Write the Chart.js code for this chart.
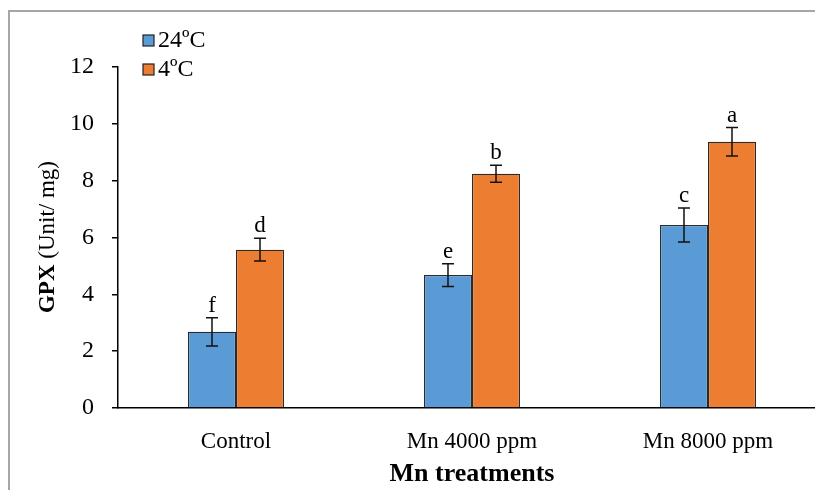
<!DOCTYPE html>
<html>
<head>
<meta charset="utf-8">
<script src="https://cdn.jsdelivr.net/npm/chart.js@4/dist/chart.umd.min.js"></script>
<style>
  html, body { margin: 0; padding: 0; background: #fff; overflow: hidden; width: 815px; height: 490px; }
  canvas { position: absolute; left: 0; top: 0; }
</style>
</head>
<body>
<canvas id="myChart" width="830" height="490"></canvas>
<script>
// dados
const categories = ['Control', 'Mn 4000 ppm', 'Mn 8000 ppm'];
const seriesNames = ['24ºC', '4ºC'];
const warmValues = [2.68, 4.68, 6.44];
const coldValues = [5.57, 8.24, 9.37];
const warmErrors = [0.5, 0.4, 0.6];
const coldErrors = [0.4, 0.3, 0.5];
const warmLetters = ['f', 'e', 'c'];
const coldLetters = ['d', 'b', 'a'];
const yTicks = [0, 2, 4, 6, 8, 10, 12];

const serif = "'Liberation Serif', 'Times New Roman', serif";
const errors = [warmErrors, coldErrors];
const letters = [warmLetters, coldLetters];

// moldura cinza, barras de erro, letras, legenda e título do eixo y
const extras = {
    id: 'extras',
    afterDraw(chart) {
        const c = chart.ctx;
        const y = chart.scales.y;
        c.save();
        c.strokeStyle = '#a6a6a6';
        c.lineWidth = 2;
        c.beginPath();
        c.moveTo(9, 490);
        c.lineTo(9, 11);
        c.lineTo(830, 11);
        c.stroke();

        chart.data.datasets.forEach((ds, i) => {
            let meta = chart.getDatasetMeta(i);
            meta.data.forEach((bar, j) => {
                let v = ds.data[j];
                let e = errors[i][j];
                let top = y.getPixelForValue(v + e);
                let bot = y.getPixelForValue(v - e);
                c.strokeStyle = '#111';
                c.lineWidth = 1.5;
                c.beginPath();
                c.moveTo(bar.x, top); c.lineTo(bar.x, bot);
                c.moveTo(bar.x - 6, top); c.lineTo(bar.x + 6, top);
                c.moveTo(bar.x - 6, bot); c.lineTo(bar.x + 6, bot);
                c.stroke();
                c.fillStyle = '#000';
                c.font = '23px ' + serif;
                c.textAlign = 'center';
                c.textBaseline = 'alphabetic';
                c.fillText(letters[i][j], bar.x, top - 6);
            });
        });

        // legenda
        chart.data.datasets.forEach((ds, i) => {
            let by = 35 + i * 29;
            c.fillStyle = ds.backgroundColor;
            c.fillRect(143, by, 11, 11);
            c.strokeStyle = '#222';
            c.lineWidth = 1.2;
            c.strokeRect(143, by, 11, 11);
            c.fillStyle = '#000';
            c.font = '24px ' + serif;
            c.textAlign = 'left';
            c.textBaseline = 'middle';
            c.fillText(ds.label, 158, by + 6);
        });

        // título do eixo y (parte em negrito)
        c.translate(48, 237);
        c.rotate(-Math.PI / 2);
        c.textBaseline = 'middle';
        c.textAlign = 'left';
        let boldPart = 'GPX';
        let normalPart = ' (Unit/ mg)';
        c.font = 'bold 23px ' + serif;
        let w1 = c.measureText(boldPart).width;
        c.font = '23px ' + serif;
        let w2 = c.measureText(normalPart).width;
        let start = -(w1 + w2) / 2;
        c.font = 'bold 23px ' + serif;
        c.fillText(boldPart, start, 0);
        c.font = '23px ' + serif;
        c.fillText(normalPart, start + w1, 0);
        c.restore();
    }
};

const ctx = document.getElementById('myChart').getContext('2d');
const myChart = new Chart(ctx, {
    type: 'bar',
    data: {
        labels: categories,
        datasets: [{
            label: seriesNames[0],
            data: warmValues,
            backgroundColor: '#5b9bd5',
            borderColor: '#2b2b2b',
            borderWidth: 1.2,
            categoryPercentage: 0.407,
            barPercentage: 1
        }, {
            label: seriesNames[1],
            data: coldValues,
            backgroundColor: '#ed7d31',
            borderColor: '#2b2b2b',
            borderWidth: 1.2,
            categoryPercentage: 0.407,
            barPercentage: 1
        }]
    },
    options: {
        responsive: false,
        animation: false,
        layout: { padding: { top: 67, right: 4, left: 0, bottom: 0 } },
        plugins: {
            legend: { display: false },
            tooltip: { enabled: false }
        },
        scales: {
            x: {
                grid: { display: false },
                border: { display: true, color: '#000', width: 1.5 },
                ticks: { color: '#000', font: { family: serif, size: 23 }, padding: 12 },
                title: {
                    display: true,
                    text: 'Mn treatments',
                    color: '#000',
                    font: { family: serif, size: 26, weight: 'bold' },
                    padding: { top: 0, bottom: 0 }
                },
                afterFit: (scale) => { scale.height = 82; }
            },
            y: {
                min: 0,
                max: 12,
                afterBuildTicks: (scale) => { scale.ticks = yTicks.map(v => ({ value: v })); },
                grid: { drawOnChartArea: false, drawTicks: true, tickLength: 6, color: '#000', lineWidth: 1.5 },
                border: { display: true, color: '#000', width: 1.5 },
                ticks: { color: '#000', font: { family: serif, size: 24 }, padding: 18 },
                afterFit: (scale) => { scale.width = 118; }
            }
        }
    },
    plugins: [extras]
});
</script>
</body>
</html>
